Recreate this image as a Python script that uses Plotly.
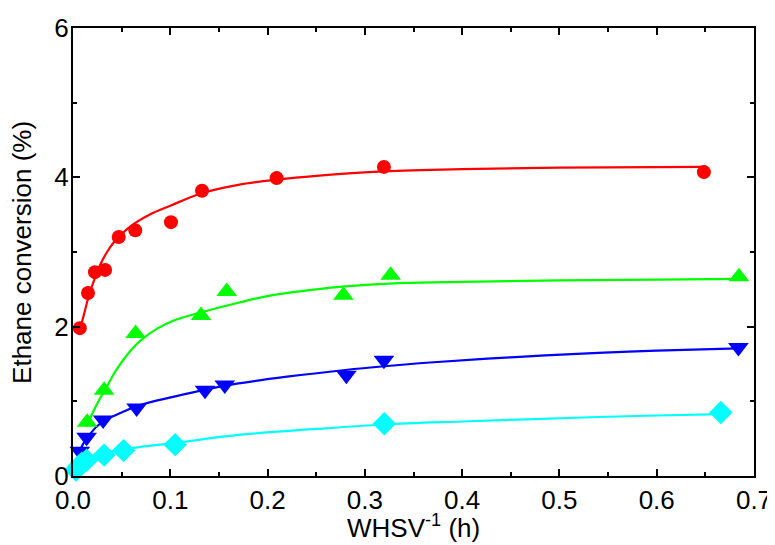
import plotly.graph_objects as go

# Measured data points
red_x = [0.007, 0.0154, 0.0226, 0.033, 0.047, 0.064, 0.1007, 0.1326, 0.2093, 0.3196, 0.6485]
red_y = [1.98, 2.45, 2.73, 2.76, 3.20, 3.29, 3.40, 3.82, 3.99, 4.14, 4.07]

green_x = [0.0145, 0.032, 0.0644, 0.1316, 0.158, 0.278, 0.3265, 0.6845]
green_y = [0.72, 1.15, 1.91, 2.15, 2.47, 2.42, 2.69, 2.67]

blue_x = [0.007, 0.014, 0.031, 0.0654, 0.1357, 0.156, 0.281, 0.3196, 0.684]
blue_y = [0.33, 0.52, 0.75, 0.91, 1.15, 1.22, 1.35, 1.55, 1.72]

cyan_x = [0.003, 0.006, 0.009, 0.014, 0.032, 0.052, 0.105, 0.32, 0.666]
cyan_y = [0.08, 0.13, 0.17, 0.21, 0.28, 0.34, 0.42, 0.70, 0.85]

# Fitted curves
red_fx = [0.007, 0.012, 0.016, 0.02, 0.028, 0.035, 0.042, 0.047, 0.055, 0.064, 0.08, 0.1, 0.133, 0.17, 0.21, 0.25, 0.32, 0.4, 0.5, 0.65]
red_fy = [1.95, 2.2, 2.4, 2.56, 2.83, 3.0, 3.13, 3.2, 3.3, 3.39, 3.51, 3.62, 3.79, 3.9, 3.97, 4.02, 4.08, 4.11, 4.13, 4.14]

green_fx = [0.014, 0.02, 0.027, 0.035, 0.043, 0.052, 0.06, 0.069, 0.086, 0.103, 0.137, 0.17, 0.2, 0.25, 0.28, 0.33, 0.4, 0.5, 0.6, 0.685]
green_fy = [0.66, 0.84, 1.02, 1.2, 1.39, 1.56, 1.69, 1.81, 1.97, 2.08, 2.21, 2.32, 2.41, 2.5, 2.54, 2.58, 2.6, 2.62, 2.63, 2.64]

blue_fx = [0.0055, 0.01, 0.0175, 0.025, 0.035, 0.05, 0.069, 0.103, 0.137, 0.17, 0.22, 0.28, 0.32, 0.367, 0.45, 0.54, 0.6, 0.684]
blue_fy = [0.28, 0.42, 0.56, 0.67, 0.76, 0.85, 0.95, 1.06, 1.16, 1.24, 1.33, 1.42, 1.47, 1.52, 1.59, 1.65, 1.68, 1.71]

cyan_fx = [0.0017, 0.006, 0.012, 0.02, 0.035, 0.05, 0.07, 0.103, 0.17, 0.25, 0.32, 0.4, 0.54, 0.6, 0.667]
cyan_fy = [0.06, 0.14, 0.2, 0.25, 0.31, 0.35, 0.39, 0.44, 0.55, 0.63, 0.69, 0.73, 0.79, 0.81, 0.83]

series = [
    (red_x, red_y, red_fx, red_fy, "#FF0000", "circle", 14),
    (green_x, green_y, green_fx, green_fy, "#00FF00", "triangle-up", 18),
    (blue_x, blue_y, blue_fx, blue_fy, "#0000FF", "triangle-down", 18),
    (cyan_x, cyan_y, cyan_fx, cyan_fy, "#00FFFF", "diamond", 18),
]

fig = go.Figure()
for sx, sy, fx, fy, col, sym, sz in series:
    fig.add_trace(go.Scatter(x=fx, y=fy, mode="lines", line=dict(color=col, width=2.2, shape="spline", smoothing=1.0),
                             hoverinfo="skip", showlegend=False, cliponaxis=False))
for sx, sy, fx, fy, col, sym, sz in series:
    fig.add_trace(go.Scatter(x=sx, y=sy, mode="markers", marker=dict(color=col, symbol=sym, size=sz, line=dict(width=0)),
                             showlegend=False, cliponaxis=False))

axis_font = dict(family="Liberation Sans, Arial, sans-serif", size=26, color="black")
title_font = dict(family="Liberation Sans, Arial, sans-serif", size=26, color="black")
# The page body has an 8 px margin; the figure is offset by it.
fig.update_layout(
    width=767, height=537,
    margin=dict(l=65, r=21, t=20, b=69, autoexpand=False),
    paper_bgcolor="white", plot_bgcolor="white",
    font=axis_font,
    xaxis=dict(range=[0, 0.7], dtick=0.1, tick0=0, tickformat=".1f", automargin=False,
               showgrid=False, zeroline=False, showline=True, linecolor="black", linewidth=2,
               ticks="inside", ticklen=7, tickwidth=2, tickcolor="black", mirror="allticks",
               minor=dict(dtick=0.05, ticks="inside", ticklen=4, tickwidth=2, tickcolor="black", showgrid=False),
               tickfont=axis_font),
    yaxis=dict(range=[0, 6], dtick=2, tick0=0, automargin=False, ticklabelstandoff=-3,
               showgrid=False, zeroline=False, showline=True, linecolor="black", linewidth=2,
               ticks="inside", ticklen=7, tickwidth=2, tickcolor="black", mirror="allticks",
               minor=dict(dtick=1, ticks="inside", ticklen=4, tickwidth=2, tickcolor="black", showgrid=False),
               tickfont=axis_font),
    annotations=[
        dict(text="WHSV<sup>-1</sup> (h)", xref="paper", yref="paper", x=0.5, y=-0.071,
             xanchor="center", yanchor="top", showarrow=False, font=title_font),
        dict(text="Ethane conversion (%)", xref="paper", yref="paper", x=-0.075, y=0.5,
             xanchor="center", yanchor="middle", textangle=-90, showarrow=False, font=title_font),
    ],
)

fig.write_html("out.html")
